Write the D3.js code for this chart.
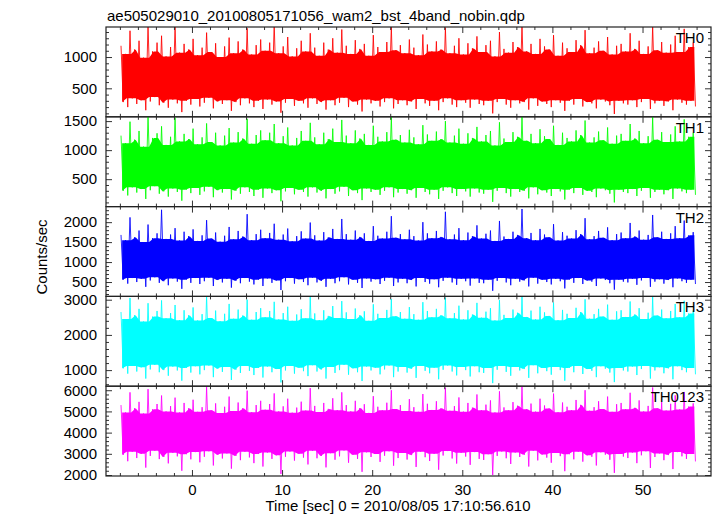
<!DOCTYPE html>
<html>
<head>
<meta charset="utf-8">
<script src="https://cdn.jsdelivr.net/npm/d3@7"></script>
<style>
  html, body { margin: 0; padding: 0; background: #fff; }
  svg { display: block; font-family: "Liberation Sans", Arial, Helvetica, sans-serif; }
</style>
</head>
<body>
<svg id="chart" width="717" height="516"></svg>
<script>
// ---------------- DATA ----------------
const title = "ae505029010_20100805171056_wam2_bst_4band_nobin.qdp";
const xLabel = "Time [sec] 0 = 2010/08/05 17:10:56.610";
const yLabel = "Counts/sec";
const panelNames = ["TH0", "TH1", "TH2", "TH3", "TH0123"];
const panelColors = ["#ff0000", "#00ff00", "#0000ff", "#00ffff", "#ff00ff"];

// time axis
const timeStart = -8;      // first sample [s]
const binWidth = 0.5;      // each envelope bin [s]
const xTickMajor = [0, 10, 20, 30, 40, 50];
const xTickMinor = [-8, -6, -4, -2, 2, 4, 6, 8, 12, 14, 16, 18, 22, 24, 26, 28, 32, 34, 36, 38, 42, 44, 46, 48, 52, 54, 56];

// y ranges and ticks per panel
const yDomains = [[45, 1480], [28, 1574], [140, 2390], [543, 3094], [1953, 6190]];
const yTickMajor = [[500, 1000], [500, 1000, 1500], [500, 1000, 1500, 2000], [1000, 2000, 3000], [2000, 3000, 4000, 5000, 6000]];
const yTickMinorStep = [100, 100, 100, 200, 200];

// per 0.5 s bin: highest and lowest count rate (counts/sec)
const th0Hi = [1180,1050,1420,1120,1260,990,1510,1090,1230,1340,1010,1160,1480,1070,1210,1120,
1290,1030,1150,1390,1080,1220,1000,1170,1310,1060,1250,1120,1460,1040,1190,1280,
1100,1230,1540,1060,1170,1320,1010,1140,1260,1090,1380,1150,1020,1230,1120,1300,
1070,1440,1180,1050,1270,1130,1210,1020,1350,1160,1080,1240,1490,1110,1190,1060,
1280,1150,1030,1360,1200,1090,1250,1120,1470,1060,1180,1300,1040,1220,1140,1330,
1080,1190,1260,1010,1400,1130,1070,1240,1160,1520,1090,1210,1050,1290,1170,1120,
1350,1020,1230,1140,1080,1270,1190,1430,1060,1150,1250,1100,1320,1040,1180,1210,
1090,1380,1130,1260,1050,1170,1500,1110,1240,1070,1200,1340,1080,1450,1160,1230];
const th0Lo = [280,200,340,250,310,150,290,360,230,270,190,320,260,120,300,240,
330,210,270,350,180,290,250,310,140,280,230,340,260,200,300,170,
320,240,290,110,270,330,220,300,260,190,340,250,280,160,310,230,
270,350,200,290,240,130,320,260,300,210,280,340,180,250,310,230,
290,170,330,260,220,300,150,280,340,240,200,310,270,190,320,250,
230,300,100,280,330,240,190,310,260,280,160,340,220,290,250,200,
310,270,140,300,240,330,210,280,260,180,320,290,230,90,300,260,
240,310,200,280,330,170,260,300,220,290,150,320,270,240,300,210];

const th1Hi = [1250,1120,1490,1180,1330,1060,1600,1210,1290,1410,1090,1230,1560,1150,1280,1190,
1370,1100,1220,1460,1140,1300,1080,1250,1380,1130,1310,1200,1540,1110,1260,1340,
1170,1300,1450,1120,1240,1390,1080,1210,1330,1160,1470,1220,1100,1300,1190,1370,
1140,1520,1250,1120,1340,1200,1280,1090,1420,1230,1150,1310,1580,1180,1260,1130,
1350,1220,1100,1430,1270,1160,1320,1190,1500,1130,1250,1370,1110,1290,1210,1400,
1150,1260,1330,1080,1480,1200,1140,1310,1230,1590,1160,1280,1120,1360,1240,1190,
1420,1090,1300,1210,1150,1340,1260,1510,1130,1220,1320,1170,1390,1110,1250,1280,
1160,1450,1200,1330,1120,1240,1570,1180,1310,1140,1270,1410,1150,1530,1230,1300];
const th1Lo = [300,220,360,270,330,160,310,380,250,290,200,340,280,130,320,260,
350,230,290,370,190,310,270,330,150,300,250,360,280,210,320,180,
340,260,310,120,290,350,240,320,280,200,360,270,300,170,330,250,
290,370,210,310,260,140,340,280,320,230,300,360,190,270,330,250,
310,180,350,280,240,320,160,300,360,260,210,330,290,200,340,270,
250,320,110,300,350,260,200,330,280,300,170,360,240,310,270,210,
330,290,150,320,260,350,230,300,280,190,340,310,250,100,320,280,
260,330,210,300,350,180,280,320,240,310,160,340,290,260,320,230];

const th2Hi = [1680,1550,2120,1620,1790,1500,1940,1600,1720,2310,1580,1690,1850,1540,1760,1650,
1820,1530,1670,2050,1590,1740,1510,1660,1880,1570,1780,1640,2200,1550,1700,1810,
1600,1730,1960,1560,1690,1840,1520,1650,1770,1590,1990,1670,1540,1750,1620,1830,
1580,2080,1700,1560,1790,1630,1720,1530,1900,1660,1590,1760,2150,1610,1700,1570,
1810,1650,1540,2000,1720,1600,1780,1630,2260,1570,1690,1850,1550,1740,1650,1920,
1590,1710,1790,1530,2030,1640,1580,1760,1680,2330,1600,1730,1550,1830,1690,1620,
1950,1540,1750,1660,1590,1800,1700,2100,1570,1650,1780,1610,1870,1550,1700,1740,
1600,1980,1640,1790,1560,1680,2180,1620,1760,1580,1720,1900,1600,2040,1670,1750];
const th2Lo = [560,460,600,500,580,380,540,620,480,520,420,590,510,330,560,480,
600,450,520,610,400,550,490,580,360,530,470,600,510,440,560,400,
590,480,540,300,520,600,460,570,500,420,610,490,530,380,580,470,
520,620,440,560,480,350,590,510,570,450,530,610,400,490,580,470,
550,390,600,500,460,570,370,530,610,490,430,580,520,410,590,480,
470,560,280,530,600,490,420,580,510,540,390,610,460,560,500,440,
580,520,340,560,480,600,450,540,510,400,590,550,470,310,560,510,
490,580,430,540,600,380,510,570,460,550,370,590,520,480,560,450];

const th3Hi = [2650,2450,3050,2560,2740,2380,2900,2520,2680,2980,2470,2620,2850,2420,2700,2560,
2780,2410,2590,3100,2480,2690,2390,2600,2880,2460,2720,2550,3000,2430,2650,2760,
2500,2680,2940,2440,2620,2800,2400,2580,2730,2470,3080,2610,2420,2700,2540,2820,
2480,2960,2640,2450,2750,2560,2670,2400,2870,2600,2480,2710,3020,2530,2650,2460,
2790,2590,2430,2930,2680,2500,2740,2560,3060,2470,2620,2830,2440,2700,2580,2910,
2490,2660,2760,2410,2990,2570,2480,2720,2630,3120,2510,2690,2440,2800,2640,2540,
2920,2420,2710,2600,2480,2770,2650,3010,2460,2590,2740,2520,2860,2430,2670,2700,
2510,2950,2580,2760,2450,2630,3090,2550,2720,2470,2680,2880,2500,2970,2610,2690];
const th3Lo = [1050,900,1120,960,1080,760,1020,1150,940,1000,840,1100,990,700,1060,930,
1110,880,1000,1130,800,1040,950,1090,720,1010,920,1120,980,860,1060,790,
1100,940,1030,650,990,1120,900,1070,970,830,1140,960,1020,760,1090,920,
1000,1150,870,1050,940,690,1100,990,1070,880,1020,1130,800,960,1090,930,
1040,780,1120,980,910,1070,740,1010,1130,960,850,1090,1000,820,1110,940,
920,1060,630,1010,1120,950,840,1090,990,1030,780,1140,910,1060,970,870,
1090,1000,700,1060,940,1120,890,1030,980,800,1110,1040,930,660,1060,990,
960,1100,860,1030,1120,760,990,1080,910,1050,740,1110,1000,940,1060,880];

const th0123Hi = [5300,4950,5900,5150,5450,4900,6050,5100,5350,5750,5000,5250,5650,4950,5400,5150,
5550,4980,5200,6150,5050,5380,4920,5220,5700,5020,5420,5150,5980,4960,5300,5500,
5080,5350,5850,5000,5240,5600,4940,5180,5460,5040,6100,5260,4970,5400,5120,5620,
5060,5900,5300,5000,5500,5160,5340,4930,5720,5220,5050,5410,6000,5110,5300,5020,
5580,5200,4980,5820,5360,5070,5480,5150,6120,5030,5250,5660,4990,5400,5180,5800,
5060,5320,5520,4950,5950,5190,5050,5440,5270,6180,5100,5370,4990,5600,5280,5140,
5840,4960,5420,5220,5060,5540,5310,6000,5030,5200,5480,5110,5700,4980,5340,5400,
5100,5880,5170,5520,5000,5260,6130,5150,5440,5040,5360,5760,5090,5920,5230,5380];
const th0123Lo = [2950,2650,3100,2800,3000,2350,2900,3150,2750,2850,2550,3050,2880,2200,2980,2740,
3080,2600,2860,3120,2450,2950,2780,3020,2300,2900,2700,3100,2830,2560,2990,2400,
3060,2760,2930,2050,2860,3110,2680,3000,2820,2500,3140,2790,2900,2360,3030,2720,
2880,3160,2580,2960,2760,2150,3070,2850,2990,2620,2910,3120,2440,2800,3040,2730,
2940,2380,3100,2840,2660,3000,2250,2920,3130,2780,2540,3050,2870,2480,3080,2760,
2710,2980,2000,2900,3110,2790,2520,3060,2850,2950,2400,3150,2690,2970,2820,2580,
3040,2890,2180,2980,2740,3100,2630,2930,2860,2450,3070,2960,2720,2100,2990,2870,
2800,3060,2560,2930,3120,2330,2850,3020,2700,2940,2280,3080,2880,2760,2990,2640];

const seriesHi = [th0Hi, th1Hi, th2Hi, th3Hi, th0123Hi];
const seriesLo = [th0Lo, th1Lo, th2Lo, th3Lo, th0123Lo];

// ---------------- LAYOUT ----------------
const plotL = 106, plotR = 711, plotT = 27, plotB = 476;
const nP = panelNames.length;
const pH = (plotB - plotT) / nP;
const fontSize = 15;
const fontFam = "Liberation Sans, Arial, sans-serif";

const svg = d3.select("#chart");
const x = d3.scaleLinear().domain([-9.54, 57.6]).range([plotL, plotR]);

svg.append("text")
  .attr("x", 107).attr("y", 21)
  .attr("font-size", fontSize).attr("fill", "#000")
  .text(title);

panelNames.forEach((name, p) => {
  const y0 = plotT + p * pH, y1 = plotT + (p + 1) * pH;
  const y = d3.scaleLinear().domain(yDomains[p]).range([y1, y0]);
  const g = svg.append("g");
  const color = panelColors[p];
  const hi = seriesHi[p], lo = seriesLo[p];
  const n = hi.length;
  const tc = d3.range(n).map(i => timeStart + binWidth * (i + 0.5));

  const clipId = "clip" + p;
  svg.append("clipPath").attr("id", clipId)
    .append("rect").attr("x", plotL).attr("y", y0).attr("width", plotR - plotL).attr("height", pH);

  const data = d3.range(n).map(i => ({
    t: tc[i], hi: hi[i], lo: lo[i],
    inHi: d3.min([hi[Math.max(0, i - 1)], hi[i], hi[Math.min(n - 1, i + 1)]]),
    inLo: d3.max([lo[Math.max(0, i - 1)], lo[i], lo[Math.min(n - 1, i + 1)]])
  }));

  const dg = g.append("g").attr("clip-path", `url(#${clipId})`);
  // solid core of the trace
  dg.append("path").datum(data)
    .attr("d", d3.area().x(d => x(d.t)).y0(d => y(d.inLo)).y1(d => y(d.inHi)))
    .attr("fill", color);
  // the trace swinging between bin extremes
  const zz = [];
  data.forEach(d => { zz.push([d.t - binWidth / 4, d.hi]); zz.push([d.t + binWidth / 4, d.lo]); });
  dg.append("path").datum(zz)
    .attr("d", d3.line().x(d => x(d[0])).y(d => y(d[1])))
    .attr("fill", "none").attr("stroke", color).attr("stroke-width", 1).attr("stroke-opacity", 0.85);

  const [dmin, dmax] = yDomains[p];
  const minor = d3.range(Math.ceil(dmin / yTickMinorStep[p]) * yTickMinorStep[p], dmax, yTickMinorStep[p])
    .filter(v => !yTickMajor[p].includes(v));
  const tickStroke = "#333";
  const styleAxis = sel => { sel.select(".domain").remove(); sel.selectAll("line").attr("stroke", tickStroke); };
  const styleText = sel => sel.selectAll("text").attr("font-size", fontSize).attr("fill", "#000").attr("font-family", fontFam);

  g.append("g").attr("transform", `translate(${plotL},0)`)
    .call(d3.axisLeft(y).tickValues(yTickMajor[p]).tickSizeInner(-6).tickSizeOuter(0).tickPadding(9).tickFormat(d3.format("d")))
    .call(styleAxis).call(styleText);
  g.append("g").attr("transform", `translate(${plotL},0)`)
    .call(d3.axisLeft(y).tickValues(minor).tickSizeInner(-3).tickSizeOuter(0).tickFormat(""))
    .call(styleAxis);
  g.append("g").attr("transform", `translate(${plotR},0)`)
    .call(d3.axisRight(y).tickValues(yTickMajor[p]).tickSizeInner(-6).tickSizeOuter(0).tickFormat(""))
    .call(styleAxis);
  g.append("g").attr("transform", `translate(${plotR},0)`)
    .call(d3.axisRight(y).tickValues(minor).tickSizeInner(-3).tickSizeOuter(0).tickFormat(""))
    .call(styleAxis);

  const isLast = p === nP - 1;
  g.append("g").attr("transform", `translate(0,${y1})`)
    .call(d3.axisBottom(x).tickValues(xTickMajor).tickSizeInner(-6).tickSizeOuter(0).tickPadding(8)
      .tickFormat(isLast ? d3.format("d") : ""))
    .call(styleAxis).call(styleText);
  g.append("g").attr("transform", `translate(0,${y1})`)
    .call(d3.axisBottom(x).tickValues(xTickMinor).tickSizeInner(-3).tickSizeOuter(0).tickFormat(""))
    .call(styleAxis);
  g.append("g").attr("transform", `translate(0,${y0})`)
    .call(d3.axisTop(x).tickValues(xTickMajor).tickSizeInner(-6).tickSizeOuter(0).tickFormat(""))
    .call(styleAxis);
  g.append("g").attr("transform", `translate(0,${y0})`)
    .call(d3.axisTop(x).tickValues(xTickMinor).tickSizeInner(-3).tickSizeOuter(0).tickFormat(""))
    .call(styleAxis);

  g.append("rect").attr("x", plotL).attr("y", y0).attr("width", plotR - plotL).attr("height", pH)
    .attr("fill", "none").attr("stroke", "#222").attr("stroke-width", 1.2);

  g.append("text").attr("x", 704).attr("y", y0 + 16)
    .attr("text-anchor", "end").attr("font-size", fontSize).attr("fill", "#000")
    .text(name);
});

svg.append("text")
  .attr("transform", `translate(47,257) rotate(-90)`)
  .attr("text-anchor", "middle").attr("font-size", fontSize).attr("fill", "#000")
  .text(yLabel);

svg.append("text")
  .attr("x", 398).attr("y", 511)
  .attr("text-anchor", "middle").attr("font-size", fontSize).attr("fill", "#000")
  .text(xLabel);
</script>
</body>
</html>
